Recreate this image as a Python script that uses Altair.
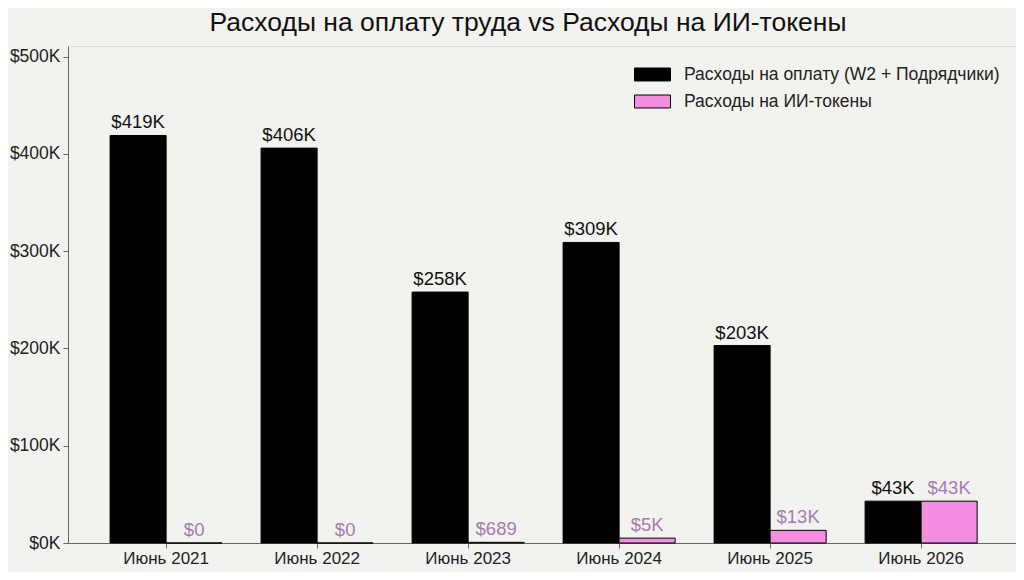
import pandas as pd
import altair as alt

months = ["Июнь 2021", "Июнь 2022", "Июнь 2023", "Июнь 2024", "Июнь 2025", "Июнь 2026"]
labor_cost = [419000, 406000, 258000, 309000, 203000, 43000]
labor_text = ["$419K", "$406K", "$258K", "$309K", "$203K", "$43K"]
token_cost = [0, 0, 689, 5000, 13000, 43000]
token_text = ["$0", "$0", "$689", "$5K", "$13K", "$43K"]

series_labor = "Расходы на оплату (W2 + Подрядчики)"
series_tokens = "Расходы на ИИ-токены"

FONT = "Liberation Sans"

data = pd.DataFrame(
    {
        "month": months * 2,
        "series": [series_labor] * 6 + [series_tokens] * 6,
        "cost": labor_cost + token_cost,
        "text": labor_text + token_text,
    }
)

base = alt.Chart(data).encode(
    x=alt.X(
        "month:N",
        sort=months,
        scale=alt.Scale(paddingInner=0.258, paddingOuter=0.268, align=0.52),
        axis=alt.Axis(
            title=None,
            labelAngle=0,
            labelFontSize=17,
            labelColor="#222222",
            labelPadding=2,
            tickSize=5,
            domainColor="#666666",
            tickColor="#666666",
        ),
    ),
    xOffset=alt.XOffset(
        "series:N",
        sort=[series_labor, series_tokens],
        scale=alt.Scale(paddingInner=0, paddingOuter=0),
    ),
    y=alt.Y(
        "cost:Q",
        scale=alt.Scale(domain=[0, 511000], nice=False),
        axis=alt.Axis(
            title=None,
            values=[0, 100000, 200000, 300000, 400000, 500000],
            labelExpr="'$' + datum.value / 1000 + 'K'",
            labelFontSize=17.5,
            labelColor="#222222",
            labelPadding=3,
            tickSize=5,
            grid=False,
            domainColor="#666666",
            tickColor="#666666",
        ),
    ),
)

bars = base.mark_bar(stroke="black", strokeWidth=1).encode(
    color=alt.Color(
        "series:N",
        sort=[series_labor, series_tokens],
        scale=alt.Scale(domain=[series_labor, series_tokens], range=["#000000", "#f48ee0"]),
        legend=alt.Legend(
            title=None,
            orient="none",
            legendX=566,
            legendY=10,
            symbolType="M-1,-0.36L1,-0.36L1,0.36L-1,0.36Z",
            symbolSize=1296,
            symbolStrokeColor="black",
            symbolStrokeWidth=1,
            symbolOpacity=1,
            labelFontSize=17.5,
            labelLimit=500,
            labelColor="#222222",
            labelOffset=13,
            rowPadding=-10,
        ),
    )
)

labor_labels = base.mark_text(
    baseline="alphabetic", dy=-7, fontSize=18.5, color="#111111", font=FONT
).encode(text="text:N").transform_filter(alt.datum.series == series_labor)

token_labels = base.mark_text(
    baseline="alphabetic", dy=-7, fontSize=18.5, color="#a47cb2", font=FONT
).encode(text="text:N").transform_filter(alt.datum.series == series_tokens)

chart = (
    alt.layer(bars, labor_labels, token_labels)
    .properties(
        width=948,
        height=497,
        autosize="none",
        padding={"left": 60, "top": 38, "right": 0, "bottom": 29},
        background="#f2f2ee",
        title=alt.TitleParams(
            "Расходы на оплату труда vs Расходы на ИИ-токены",
            fontSize=26.5,
            fontWeight="normal",
            color="#111111",
            font=FONT,
            anchor="middle",
            dx=-14,
            offset=10,
        ),
    )
    .configure_view(stroke=None)
    .configure(font=FONT)
)

chart.save("out.html", embed_options={"renderer": "svg", "actions": False})
